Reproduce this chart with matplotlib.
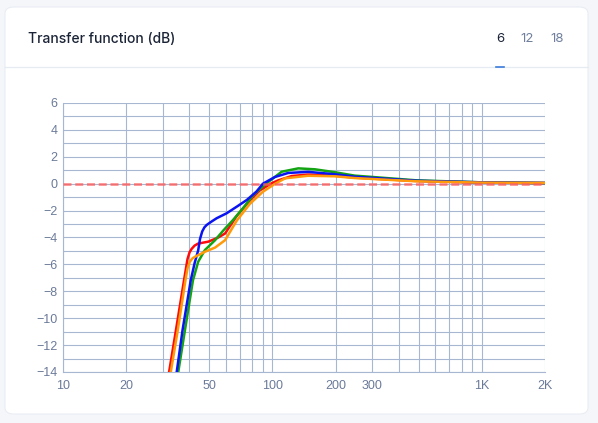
import matplotlib
matplotlib.use('Agg')
import matplotlib.pyplot as plt
from matplotlib.patches import FancyBboxPatch
from matplotlib.lines import Line2D

# values (Hz, dB)
blue_f = [34.9, 37.2, 40.7, 42.5, 44.2, 45.1, 46.2, 47.3, 48.5, 51, 54.1, 60.4, 67.5, 75.4, 83.8, 90, 102.8, 119, 148, 199, 247, 487, 1000, 2000]
blue_db = [-14, -10.9, -7.2, -5.9, -4.95, -4.1, -3.55, -3.25, -3.07, -2.83, -2.57, -2.2, -1.71, -1.21, -0.59, 0.0, 0.5, 0.8, 0.88, 0.7, 0.52, 0.22, 0.1, 0.05]

red_f = [32.1, 34.6, 37.8, 39.3, 40.2, 41.1, 42.5, 44.2, 49.4, 55.1, 59.4, 67.5, 78, 87, 99, 106.6, 123.6, 148, 199, 247, 487, 1000, 2000]
red_db = [-14, -10.9, -7.2, -5.6, -5.1, -4.85, -4.6, -4.45, -4.31, -4.0, -3.7, -2.4, -1.25, -0.5, 0.03, 0.25, 0.57, 0.68, 0.59, 0.45, 0.2, 0.08, 0.05]

orange_f = [32.7, 35.3, 38.4, 39.3, 40.3, 41.5, 42.7, 47.6, 53.2, 59.4, 67.5, 78, 90, 103, 115, 148, 199, 247, 487, 1000, 2000]
orange_db = [-14, -10.9, -7.2, -6.3, -5.8, -5.55, -5.43, -5.06, -4.75, -4.2, -2.75, -1.5, -0.6, 0.0, 0.4, 0.59, 0.55, 0.42, 0.18, 0.08, 0.05]

green_f = [35.5, 38.2, 41.7, 44.2, 47.6, 53.2, 58.1, 64.8, 72.5, 81, 90, 96, 110.6, 132.8, 159.6, 199, 247, 487, 1000, 2000]
green_db = [-14, -10.9, -7.2, -5.8, -4.93, -4.2, -3.5, -2.7, -1.8, -0.84, -0.2, 0.15, 0.89, 1.14, 1.07, 0.85, 0.6, 0.25, 0.1, 0.05]

x_ticks = [10, 20, 50, 100, 200, 300, 1000, 2000]
x_labels = ['10', '20', '50', '100', '200', '300', '1K', '2K']
x_grid = [10, 20, 30, 40, 50, 60, 70, 80, 90, 100, 200, 300, 400, 500, 600, 700, 800, 900, 1000, 2000]
y_ticks = list(range(-14, 7, 2))
y_grid = list(range(-14, 7))

W, H = 598, 423
fig = plt.figure(figsize=(W / 100, H / 100), dpi=100)
fig.patch.set_facecolor('#f4f6fa')

# card behind everything
card = FancyBboxPatch((5 / W, 1 - 414 / H), 583 / W, 407 / H,
                      boxstyle='round,pad=0,rounding_size=0.015',
                      transform=fig.transFigure, facecolor='white',
                      edgecolor='#e9edf3', linewidth=0.8, zorder=-5)
fig.add_artist(card)
fig.add_artist(Line2D([5 / W, 588 / W], [1 - 67.5 / H, 1 - 67.5 / H],
                      transform=fig.transFigure, color='#e6ebf2', lw=0.9))
fig.add_artist(Line2D([496 / W, 504 / W], [1 - 67.3 / H, 1 - 67.3 / H],
                      transform=fig.transFigure, color='#3b7bdb', lw=1.2))

fig.text(28 / W, 1 - 39 / H, 'Transfer function (dB)', fontsize=10,
         fontweight='medium', family='Inter', color='#1b2437', va='center')
fig.text(500 / W, 1 - 39 / H, '6', fontsize=9.5, family='Inter',
         color='#1b2437', va='center', ha='center')
fig.text(527 / W, 1 - 39 / H, '12', fontsize=9.5, family='Inter',
         color='#6f7f9c', va='center', ha='center')
fig.text(557.5 / W, 1 - 39 / H, '18', fontsize=9.5, family='Inter',
         color='#6f7f9c', va='center', ha='center')

ax = fig.add_axes([63 / W, 1 - 372 / H, 482 / W, 269 / H])
ax.set_zorder(2)
ax.set_facecolor('white')
grid_c = '#a8b7d1'

ax.plot(red_f, red_db, color='#ff0a0a', lw=1.8, zorder=3, solid_joinstyle='round')
ax.plot(green_f, green_db, color='#13a313', lw=1.8, zorder=3, solid_joinstyle='round')
ax.plot(blue_f, blue_db, color='#0a14f0', lw=1.8, zorder=3, solid_joinstyle='round')
ax.plot(orange_f, orange_db, color='#ff9a0a', lw=1.8, zorder=3, solid_joinstyle='round')
ax.axhline(0, color='#ff5c5c', alpha=0.8, lw=1.8, dashes=(3.2, 1.5), zorder=4)

ax.set_xscale('log')
ax.set_xlim(10, 2000)
ax.set_ylim(-14, 6)
ax.set_xticks(x_grid, minor=True)
ax.set_xticks(x_ticks)
ax.set_xticklabels(x_labels)
ax.set_xticklabels([], minor=True)
ax.set_yticks(y_grid, minor=True)
ax.set_yticks(y_ticks)
ax.grid(which='both', color=grid_c, lw=0.8, zorder=1)
ax.set_axisbelow(True)
for s in ax.spines.values():
    s.set_visible(False)
ax.spines['left'].set_visible(True)
ax.spines['bottom'].set_visible(True)
ax.spines['left'].set_color(grid_c)
ax.spines['bottom'].set_color(grid_c)
ax.spines['left'].set_linewidth(0.8)
ax.spines['bottom'].set_linewidth(0.8)
ax.tick_params(which='both', length=0, labelsize=9, labelcolor='#6b7a99')
ax.tick_params(axis='x', pad=6)
ax.tick_params(axis='y', pad=4)
for lbl in ax.get_xticklabels() + ax.get_yticklabels():
    lbl.set_family('Liberation Sans')

fig.savefig('out.png', dpi=100, facecolor=fig.get_facecolor())
